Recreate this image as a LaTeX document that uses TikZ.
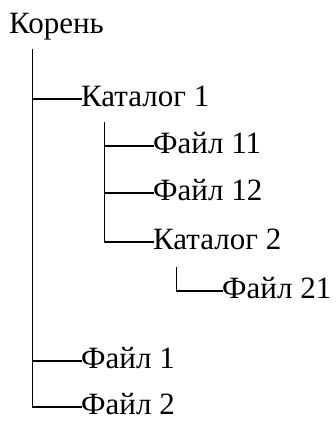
\documentclass[tikz,border=0pt]{standalone}
\usepackage{fontspec}
\setmainfont{Liberation Serif}
\begin{document}
\begin{tikzpicture}[x=1pt,y=-1pt,
  item/.style={anchor=base west, inner sep=0pt, text height=16pt, text depth=2pt,
               font=\fontsize{31}{36}\selectfont},
  branch/.style={line width=1.5pt, line cap=rect}]
\useasboundingbox (0,0) rectangle (336,421);

% entries of the tree
\node[item] (root) at (9,33)    {Корень};
\node[item] (k1)   at (81,106)  {Каталог 1};
\node[item] (f11)  at (153,153) {Файл 11};
\node[item] (f12)  at (153,200) {Файл 12};
\node[item] (k2)   at (153,249) {Каталог 2};
\node[item] (f21)  at (222,298) {Файл 21};
\node[item] (f1)   at (81,368)  {Файл 1};
\node[item] (f2)   at (81,414)  {Файл 2};

% tops of the vertical branch lines
\coordinate (t0) at ([shift={(23.5pt,-15pt)}]root.south west);
\coordinate (t1) at ([shift={(23.5pt,-15pt)}]k1.south west);
\coordinate (t2) at ([shift={(23.5pt,-17pt)}]k2.south west);

% root level
\draw[branch] (t0 |- k1.west) -- (k1.west);
\draw[branch] (t0 |- f1.west) -- (f1.west);
\draw[branch] (t0) |- (f2.west);

% inside Каталог 1
\draw[branch] (t1 |- f11.west) -- (f11.west);
\draw[branch] (t1 |- f12.west) -- (f12.west);
\draw[branch] (t1) |- (k2.west);

% inside Каталог 2
\draw[branch] (t2) |- (f21.west);
\end{tikzpicture}
\end{document}
